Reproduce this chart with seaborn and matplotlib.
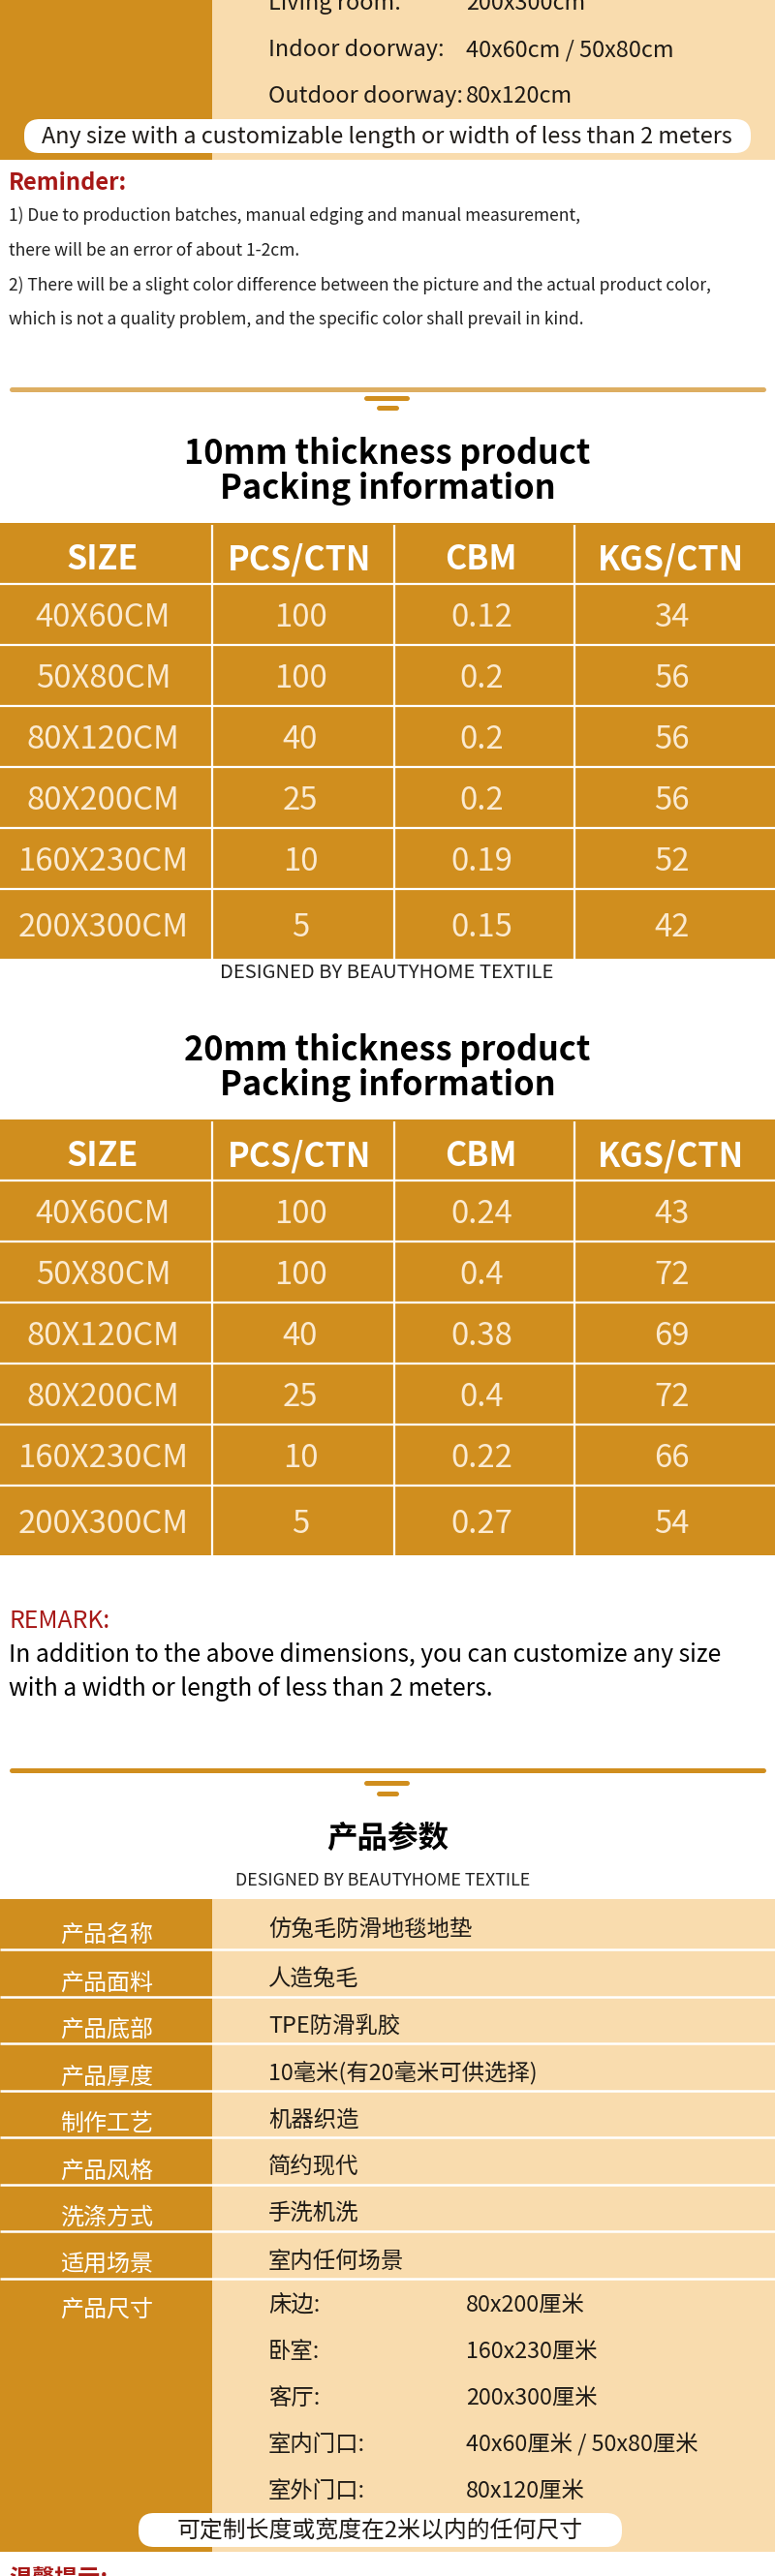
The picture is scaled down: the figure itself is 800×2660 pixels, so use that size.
import matplotlib
matplotlib.use('Agg')
import matplotlib.pyplot as plt
import seaborn as sns
import pandas as pd
from matplotlib.patches import Rectangle, FancyBboxPatch

ORANGE = '#D08E1E'
LIGHT = '#F9DCAE'
RED = '#A71817'
GOLD_LINE = '#DDAE62'
INK = '#1E1A16'

# ---- data ----
top_rooms = ['Living room:', 'Indoor doorway:', 'Outdoor doorway:']
top_sizes = ['200x300cm', '40x60cm / 50x80cm', '80x120cm']
custom_note_en = 'Any size with a customizable length or width of less than 2 meters'

reminder_lines = [
    '1) Due to production batches, manual edging and manual measurement,',
    'there will be an error of about 1-2cm.',
    '2) There will be a slight color difference between the picture and the actual product color,',
    'which is not a quality problem, and the specific color shall prevail in kind.',
]

table_cols = ['SIZE', 'PCS/CTN', 'CBM', 'KGS/CTN']
sizes = ['40X60CM', '50X80CM', '80X120CM', '80X200CM', '160X230CM', '200X300CM']
pcs_10 = [100, 100, 40, 25, 10, 5]
cbm_10 = ['0.12', '0.2', '0.2', '0.2', '0.19', '0.15']
kgs_10 = [34, 56, 56, 56, 52, 42]
pcs_20 = [100, 100, 40, 25, 10, 5]
cbm_20 = ['0.24', '0.4', '0.38', '0.4', '0.22', '0.27']
kgs_20 = [43, 72, 69, 72, 66, 54]

remark_lines = [
    'In addition to the above dimensions, you can customize any size',
    'with a width or length of less than 2 meters.',
]

param_names = ['产品名称', '产品面料', '产品底部', '产品厚度', '制作工艺',
               '产品风格', '洗涤方式', '适用场景', '产品尺寸']
param_values = ['仿兔毛防滑地毯地垫', '人造兔毛', 'TPE防滑乳胶', '10毫米(有20毫米可供选择)',
                '机器织造', '简约现代', '手洗机洗', '室内任何场景', '']
size_rooms_cn = ['床边:', '卧室:', '客厅:', '室内门口:', '室外门口:']
size_values_cn = ['80x200厘米', '160x230厘米', '200x300厘米', '40x60厘米 / 50x80厘米', '80x120厘米']
custom_note_cn = '可定制长度或宽度在2米以内的任何尺寸'

pack_10 = pd.DataFrame({'SIZE': sizes, 'PCS/CTN': pcs_10, 'CBM': cbm_10, 'KGS/CTN': kgs_10})
pack_20 = pd.DataFrame({'SIZE': sizes, 'PCS/CTN': pcs_20, 'CBM': cbm_20, 'KGS/CTN': kgs_20})

# ---- figure ----
sns.set_theme(style='white')
plt.rcParams['font.family'] = ['Noto Sans CJK SC', 'DejaVu Sans']

W, H = 800, 2660
fig = plt.figure(figsize=(W / 100, H / 100), dpi=100)
ax = fig.add_axes([0, 0, 1, 1])
ax.set_xlim(0, W)
ax.set_ylim(H, 0)
ax.axis('off')
R = fig.canvas.get_renderer()


def fit(s, width, **kw):
    t = ax.text(0, 0, s, fontsize=10, **kw)
    w = t.get_window_extent(renderer=R).width
    t.remove()
    return 10 * width / w


def put(x, y, s, size, ha='left', color=INK, **kw):
    # y is the visual centre of the glyphs
    ax.text(x, y + 0.35 * size / 0.72, s, fontsize=size, ha=ha, va='baseline',
            color=color, **kw)


def divider(y, color, y1, y2):
    ax.plot([12, 788], [y, y], color=color, lw=3.6, solid_capstyle='round')
    ax.plot([378, 420], [y1, y1], color=ORANGE, lw=3.6, solid_capstyle='round')
    ax.plot([391, 409], [y2, y2], color=ORANGE, lw=3.6, solid_capstyle='round')


def pill(x, y, w, h):
    ax.add_patch(FancyBboxPatch((x, y), w, h, boxstyle='round,pad=0,rounding_size=16',
                                fc='white', ec='none', zorder=3))


# ---- top size block ----
ax.add_patch(Rectangle((0, 0), 219, 165, color=ORANGE, lw=0))
ax.add_patch(Rectangle((219, 0), W - 219, 165, color=LIGHT, lw=0))
s_top = fit('40x60cm / 50x80cm', 215, fontweight='light')
for i, (room, val) in enumerate(zip(top_rooms, top_sizes)):
    yy = 2 + 48 * i
    put(277, yy, room, s_top, fontweight='light')
    put(481, yy, val, s_top, fontweight='light')
pill(25, 123, 750, 35)
put(399, 140, custom_note_en, fit(custom_note_en, 712, fontweight='light'),
    ha='center', fontweight='light', zorder=4)

# ---- reminder ----
put(9, 188, 'Reminder:', fit('Reminder:', 123, fontweight='bold'), color=RED, fontweight='bold')
s_rem = fit(reminder_lines[2], 726, fontweight='light')
for i, line in enumerate(reminder_lines):
    put(9, 222 + 35.7 * i, line, s_rem, color='#222222', fontweight='light')


# ---- packing tables ----
col_edges = [0, 219, 407, 593, 800]
s_title = fit('10mm thickness product', 421, fontweight='bold')
s_head = fit('PCS/CTN', 148, fontweight='bold')
s_cell = fit('200X300CM', 176, fontweight='light')


def pack_table(df, top, title):
    put(400, top - 73, title, s_title, ha='center', color='black', fontweight='bold')
    put(400, top - 37, 'Packing information', s_title, ha='center', color='black',
        fontweight='bold')
    row_h = 63
    n = len(df) + 1
    bottom = top + row_h * n + 9
    ax.add_patch(Rectangle((0, top), W, bottom - top, color=ORANGE, lw=0))
    ax.hlines([top + row_h * k for k in range(1, n)], 0, W, colors='white', lw=1.6)
    ax.vlines(col_edges[1:-1], top + 2, bottom, colors='white', lw=1.6)
    centres = [(a + b) / 2 for a, b in zip(col_edges[:-1], col_edges[1:])]
    for c, name in enumerate(df.columns):
        put(centres[c] - 4, top + row_h / 2 + 5, name, s_head, ha='center', color='white',
            fontweight='bold')
        for r, v in enumerate(df[name]):
            y0 = top + row_h * (r + 1)
            h = row_h if r < len(df) - 1 else row_h + 9
            put(centres[c] - 3, y0 + h / 2 + 1, str(v), s_cell, ha='center',
                color='#FBEAD0', fontweight='light')
    return bottom


pack_table(pack_10, 540, '10mm thickness product')
designed = 'DESIGNED BY BEAUTYHOME TEXTILE'
put(399, 1003, designed, fit(designed, 344, fontweight='light'), ha='center',
    color='#222222', fontweight='light')
pack_table(pack_20, 1156, '20mm thickness product')

divider(402, GOLD_LINE, 411, 421)

# ---- remark ----
put(9, 1672, 'REMARK:', fit('REMARK:', 104), color=RED)
s_remark = fit(remark_lines[0], 738)
for i, line in enumerate(remark_lines):
    put(9, 1707 + 35 * i, line, s_remark, color='black')

divider(1828, ORANGE, 1841, 1852)

# ---- 产品参数 ----
put(400, 1897, '产品参数', fit('产品参数', 126, fontweight='bold'), ha='center',
    color='black', fontweight='bold')
put(395, 1941, designed, fit(designed, 304, fontweight='light'), ha='center',
    color='#222222', fontweight='light')

cn_top = 1961
first_h, row_h = 52, 48.5
edges = [cn_top, cn_top + first_h] + [cn_top + first_h + row_h * k for k in range(1, 8)]
cn_bottom = 2635
ax.add_patch(Rectangle((0, cn_top), 219, cn_bottom - cn_top, color=ORANGE, lw=0))
ax.add_patch(Rectangle((219, cn_top), W - 219, cn_bottom - cn_top, color=LIGHT, lw=0))
ax.hlines(edges[1:], 0, W, colors='white', lw=1.8)

s_lab = fit('产品名称', 96, fontweight='medium')
s_val = fit('10毫米(有20毫米可供选择)', 278, fontweight='light')
for i, (name, val) in enumerate(zip(param_names, param_values)):
    y0 = edges[i]
    y1 = edges[i + 1] if i + 1 < len(edges) else None
    if y1 is not None:
        mid = (y0 + y1) / 2
        put(110, mid + 9, name, s_lab, ha='center', color='white', fontweight='medium')
        put(277, mid + 5, val, s_val, fontweight='light')
    else:
        put(110, y0 + 31, name, s_lab, ha='center', color='white', fontweight='medium')
        for k, (room, sz) in enumerate(zip(size_rooms_cn, size_values_cn)):
            yy = y0 + 26 + 48 * k
            put(277, yy, room, s_val, fontweight='light')
            put(481, yy, sz, s_val, fontweight='light')

pill(143, 2595, 499, 35)
put(392, 2612, custom_note_cn, fit(custom_note_cn, 418, fontweight='light'), ha='center',
    fontweight='light', zorder=4)

put(9, 2661, '温馨提示:', fit('温馨提示:', 102, fontweight='bold'), color=RED, fontweight='bold')

fig.savefig('out.png', dpi=100, facecolor='white')
